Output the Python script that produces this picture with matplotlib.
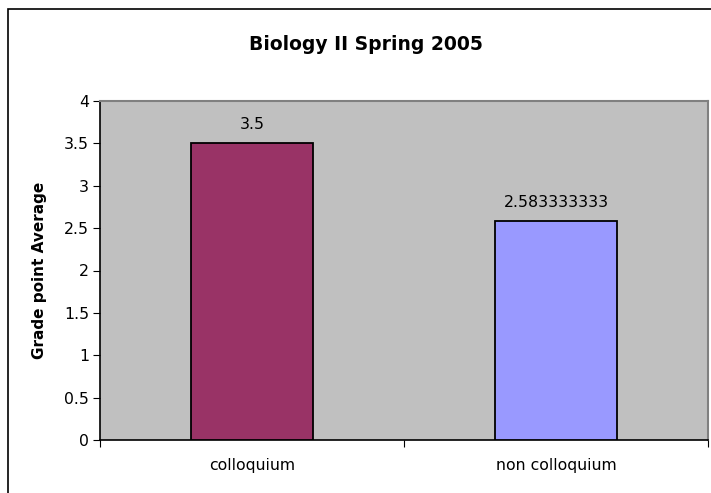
import matplotlib
matplotlib.use("Agg")
import matplotlib.pyplot as plt
from matplotlib.patches import Rectangle

categories = ["colloquium", "non colloquium"]
values = [3.5, 2.583333333]
labels = ["3.5", "2.583333333"]
colors = ["#993366", "#9999FF"]
yticks = [0, 0.5, 1, 1.5, 2, 2.5, 3, 3.5, 4]
ytick_labels = ["0", "0.5", "1", "1.5", "2", "2.5", "3", "3.5", "4"]

plt.rcParams['font.family'] = ['DejaVu Sans']

W, H = 711, 493
fig = plt.figure(figsize=(W / 100, H / 100), dpi=100)
fig.patch.set_facecolor("white")

# outer chart border
fig.add_artist(Rectangle((8 / W, 0 - 0.01), 1.2, 1 - 9 / H + 0.01,
                         transform=fig.transFigure, fill=False,
                         edgecolor="black", linewidth=1.2))

ax = fig.add_axes([100 / W, 1 - 440 / H, (708 - 100) / W, (440 - 101) / H])
ax.set_facecolor("#C0C0C0")

fs = 11.3
x = list(range(len(categories)))
ax.bar(x, values, width=0.4, color=colors, edgecolor="black", linewidth=1.3, zorder=3)
for xi, v, lab in zip(x, values, labels):
    ax.annotate(lab, (xi, v), xytext=(0, 8), textcoords="offset points",
                ha="center", va="bottom", fontsize=fs)

ax.set_xlim(-0.5, len(categories) - 0.5)
ax.set_ylim(0, 4)
ax.set_yticks(yticks)
ax.set_yticklabels(ytick_labels, fontsize=fs)
ax.set_xticks([i - 0.5 for i in range(len(categories) + 1)])
ax.set_xticklabels([])
ax.set_xticks(x, minor=True)
ax.set_xticklabels(categories, minor=True, fontsize=fs)
ax.tick_params(axis="x", which="minor", length=0, pad=13)
ax.tick_params(axis="x", which="major", length=5, direction="out", color="black")
ax.tick_params(axis="y", length=5, direction="out", color="black", pad=3)

ax.spines["left"].set_color("black")
ax.spines["bottom"].set_color("black")
ax.spines["left"].set_linewidth(1.2)
ax.spines["bottom"].set_linewidth(1.2)
ax.spines["top"].set_color("#808080")
ax.spines["right"].set_color("#808080")
ax.spines["top"].set_linewidth(1.5)
ax.spines["right"].set_linewidth(1.5)

ax.set_ylabel("Grade point Average", fontsize=11, fontweight="bold", labelpad=12)
fig.text(366 / W, 1 - 44 / H, "Biology II Spring 2005",
         ha="center", va="center", fontsize=13.5, fontweight="bold")

fig.savefig("out.png", dpi=100)
